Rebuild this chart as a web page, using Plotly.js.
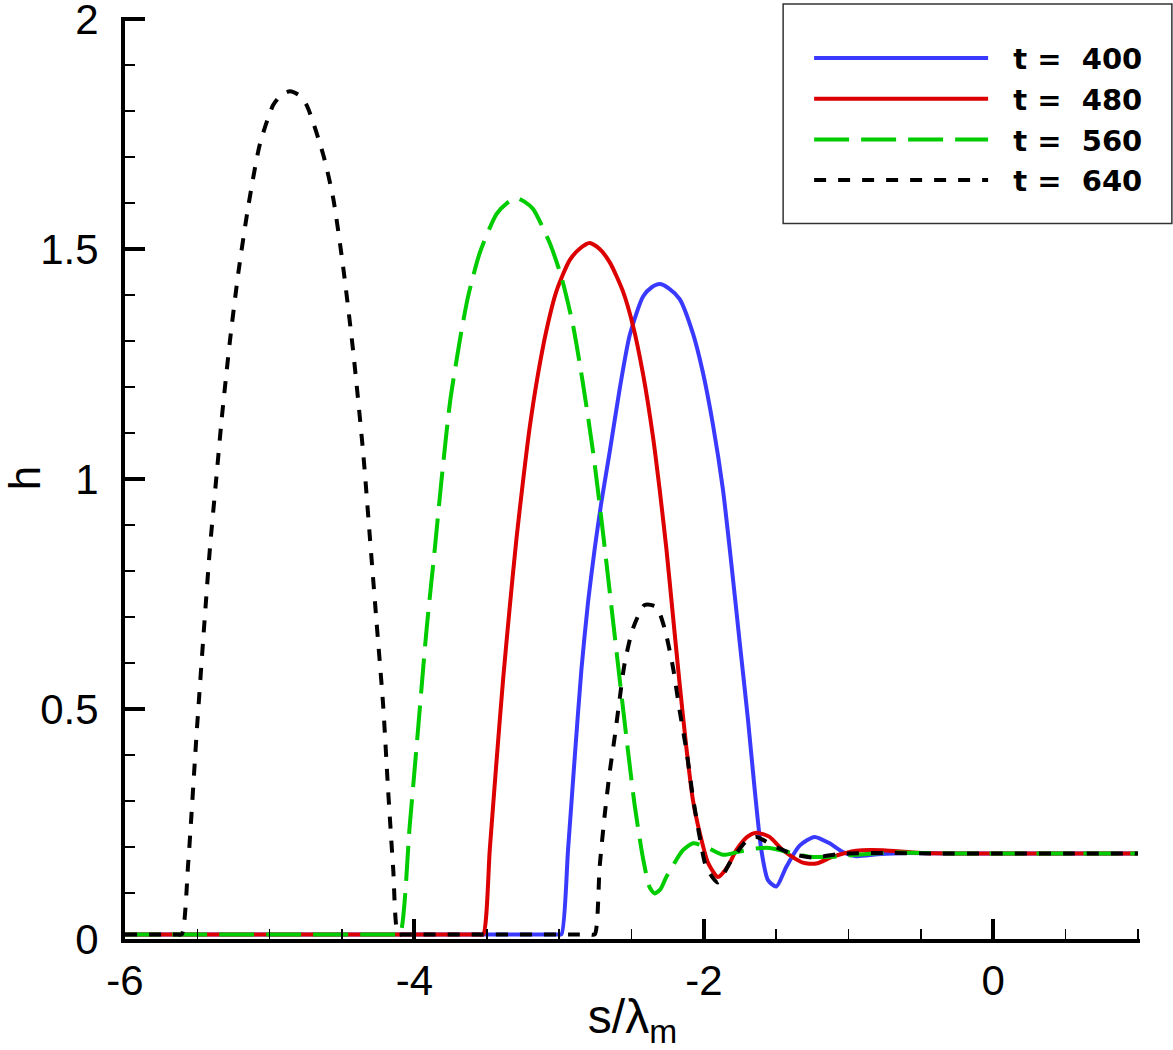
<!DOCTYPE html>
<html>
<head>
<meta charset="utf-8">
<script src="https://cdn.plot.ly/plotly-3.0.1.min.js"></script>
<style>html,body{margin:0;padding:0;background:#fff;}#chart{width:1173px;height:1050px;}</style>
</head>
<body>
<div id="chart"></div>
<script>
// ---- data ----
const seriesNames = ['\u00a0\u00a0t =\u00a0\u00a0400', '\u00a0\u00a0t =\u00a0\u00a0480', '\u00a0\u00a0t =\u00a0\u00a0560', '\u00a0\u00a0t =\u00a0\u00a0640'];

const s400 = [-6, -3.05, -3.01, -2.984, -2.938, -2.892, -2.846, -2.800, -2.754, -2.708, -2.650, -2.581, -2.512, -2.420, -2.360, -2.305, -2.240, -2.167, -2.075, -2.006, -1.937, -1.868, -1.810, -1.753, -1.695, -1.649, -1.603, -1.557, -1.499, -1.430, -1.338, -1.235, -1.131, -1.039, -0.947, -0.80, -0.60, -0.30, 0, 0.5, 1];
const h400 = [0.01, 0.01, 0.01, 0.01, 0.196, 0.396, 0.586, 0.733, 0.849, 0.950, 1.060, 1.197, 1.313, 1.397, 1.417, 1.424, 1.414, 1.391, 1.316, 1.231, 1.118, 0.977, 0.816, 0.647, 0.477, 0.326, 0.194, 0.128, 0.114, 0.157, 0.203, 0.222, 0.208, 0.189, 0.180, 0.184, 0.187, 0.186, 0.186, 0.186, 0.186];

const s480 = [-6, -3.60, -3.56, -3.525, -3.479, -3.433, -3.387, -3.341, -3.295, -3.249, -3.203, -3.146, -3.088, -3.019, -2.927, -2.860, -2.789, -2.720, -2.650, -2.559, -2.490, -2.420, -2.351, -2.305, -2.259, -2.213, -2.167, -2.121, -2.075, -2.041, -1.970, -1.903, -1.840, -1.776, -1.700, -1.637, -1.546, -1.454, -1.316, -1.224, -1.108, -0.947, -0.763, -0.50, 0, 0.5, 1];
const h480 = [0.01, 0.01, 0.01, 0.01, 0.196, 0.385, 0.565, 0.723, 0.870, 0.997, 1.113, 1.228, 1.323, 1.408, 1.476, 1.500, 1.513, 1.500, 1.471, 1.408, 1.334, 1.228, 1.091, 0.976, 0.849, 0.701, 0.554, 0.417, 0.301, 0.248, 0.165, 0.135, 0.155, 0.193, 0.222, 0.231, 0.222, 0.193, 0.166, 0.164, 0.179, 0.192, 0.193, 0.187, 0.186, 0.186, 0.186];

const s560 = [-6, -4.18, -4.13, -4.100, -4.032, -3.974, -3.917, -3.859, -3.813, -3.755, -3.686, -3.629, -3.548, -3.433, -3.360, -3.295, -3.240, -3.180, -3.065, -2.984, -2.904, -2.835, -2.766, -2.708, -2.650, -2.593, -2.535, -2.478, -2.420, -2.374, -2.340, -2.300, -2.259, -2.144, -2.075, -1.983, -1.868, -1.753, -1.637, -1.546, -1.430, -1.270, -1.110, -0.878, -0.670, -0.30, 0, 0.5, 1];
const h560 = [0.01, 0.01, 0.01, 0.01, 0.248, 0.459, 0.670, 0.849, 0.997, 1.165, 1.302, 1.397, 1.492, 1.576, 1.600, 1.611, 1.603, 1.587, 1.513, 1.439, 1.334, 1.207, 1.060, 0.913, 0.754, 0.596, 0.438, 0.291, 0.175, 0.112, 0.099, 0.108, 0.135, 0.193, 0.208, 0.200, 0.183, 0.190, 0.197, 0.198, 0.190, 0.179, 0.179, 0.185, 0.188, 0.186, 0.186, 0.186, 0.186];

const s640 = [-6, -5.68, -5.64, -5.608, -5.563, -5.505, -5.459, -5.413, -5.367, -5.332, -5.275, -5.217, -5.148, -5.068, -4.976, -4.920, -4.860, -4.800, -4.745, -4.630, -4.561, -4.492, -4.423, -4.354, -4.308, -4.262, -4.216, -4.182, -4.147, -4.113, -4.08, -4.04, -2.83, -2.79, -2.754, -2.720, -2.685, -2.650, -2.616, -2.581, -2.547, -2.490, -2.409, -2.328, -2.271, -2.213, -2.167, -2.121, -2.075, -2.029, -1.983, -1.903, -1.822, -1.707, -1.637, -1.523, -1.385, -1.247, -1.062, -0.80, -0.40, 0, 0.5, 1];
const h640 = [0.01, 0.01, 0.01, 0.01, 0.166, 0.447, 0.654, 0.850, 1.009, 1.130, 1.300, 1.448, 1.593, 1.728, 1.813, 1.835, 1.843, 1.835, 1.813, 1.705, 1.610, 1.460, 1.277, 1.057, 0.874, 0.690, 0.508, 0.325, 0.154, 0.01, 0.01, 0.01, 0.01, 0.01, 0.01, 0.157, 0.270, 0.364, 0.439, 0.524, 0.600, 0.675, 0.726, 0.722, 0.675, 0.590, 0.496, 0.411, 0.307, 0.222, 0.156, 0.123, 0.165, 0.213, 0.222, 0.203, 0.185, 0.177, 0.185, 0.187, 0.186, 0.186, 0.186, 0.186];

const xTickVals = [-6, -4, -2, 0];
const xTickText = ['-6', '-4', '-2', '0'];
const yTickVals = [0, 0.5, 1, 1.5, 2];
const yTickText = ['0', '0.5', '1', '1.5', '2'];

// ---- styles ----
const colors = ['#3a3aff', '#dd0000', '#00cc00', '#000000'];
const dashes = ['solid', 'solid', '35px,12px', '12px,12px'];
const xs = [s400, s480, s560, s640];
const ys = [h400, h480, h560, h640];

const traces = xs.map((x, i) => ({
  x: x, y: ys[i], name: seriesNames[i], type: 'scatter', mode: 'lines',
  line: {color: colors[i], width: 4, dash: dashes[i], shape: 'spline', smoothing: 0.65}
}));

const font = 'Liberation Sans, Arial, Helvetica, sans-serif';
const layout = {
  width: 1173, height: 1050,
  margin: {l: 125, r: 33, t: 17, b: 111},
  paper_bgcolor: '#fff', plot_bgcolor: '#fff',
  font: {family: font, color: '#000', size: 42},
  showlegend: true,
  legend: {
    x: 0.674, y: 0.983, xanchor: 'left', yanchor: 'top',
    bgcolor: 'rgba(0,0,0,0)', borderwidth: 0,
    font: {family: 'DejaVu Sans, sans-serif', size: 29, color: '#000', weight: 'bold'},
    itemwidth: 174, tracegroupgap: 0
  },
  shapes: [{
    type: 'rect', xref: 'paper', yref: 'paper',
    x0: 0.6484, x1: 1.0314, y0: 0.7761, y1: 1.0141,
    line: {color: '#333', width: 1.5}, fillcolor: 'rgba(0,0,0,0)', layer: 'below'
  }],
  xaxis: {
    range: [-6, 1.014], tickmode: 'array', tickvals: xTickVals, ticktext: xTickText,
    showline: true, linewidth: 4, linecolor: '#000', mirror: false,
    ticks: 'inside', ticklen: 20, tickwidth: 4, tickcolor: '#000',
    minor: {tickmode: 'linear', tick0: -6, dtick: 0.5, ticks: 'inside', ticklen: 10, tickwidth: 1.5, tickcolor: '#000'},
    showgrid: false, zeroline: false, ticklabeloverflow: 'allow',
    tickfont: {size: 42}, ticklabelstandoff: 2,
    title: {text: 's/λ<sub>m</sub>', font: {size: 48}, standoff: 4}
  },
  yaxis: {
    range: [0, 2.0045], tickmode: 'array', tickvals: yTickVals, ticktext: yTickText,
    showline: true, linewidth: 4, linecolor: '#000', mirror: false,
    ticks: 'inside', ticklen: 20, tickwidth: 4, tickcolor: '#000',
    minor: {tickmode: 'linear', tick0: 0, dtick: 0.1, ticks: 'inside', ticklen: 10, tickwidth: 1.5, tickcolor: '#000'},
    showgrid: false, zeroline: false, ticklabeloverflow: 'allow',
    tickfont: {size: 42}, ticklabelstandoff: 14,
    title: {text: 'h', font: {size: 44}, standoff: 12}
  }
};

Plotly.newPlot('chart', traces, layout, {displayModeBar: false, staticPlot: true});
</script>
</body>
</html>
